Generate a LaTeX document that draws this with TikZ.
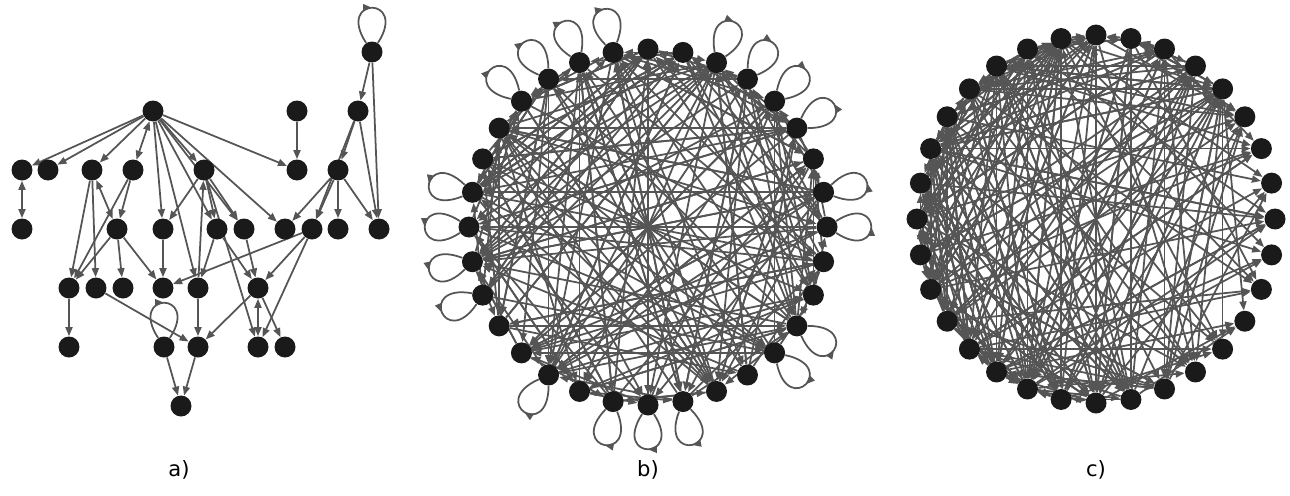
\documentclass[tikz,border=0pt]{standalone}
\usepackage{fontspec}
\setmainfont{DejaVu Sans}
\usetikzlibrary{arrows.meta,decorations.markings}
\definecolor{nodeblack}{RGB}{26,26,26}
\definecolor{edgegray}{RGB}{85,85,85}
\pgfdeclarelayer{bg}
\pgfsetlayers{bg,main}
\begin{document}
\begin{tikzpicture}[x=0.02cm,y=0.02cm,>={Triangle[length=0.18cm,width=0.14cm]},
  vtx/.style={circle,fill=nodeblack,minimum size=0.42cm,inner sep=0pt},
  con/.style={draw=edgegray,line width=1pt},
  selfloop/.style={con,min distance=1.12cm,looseness=1,postaction={decorate},
    decoration={markings,mark=at position 0.5 with {\arrow{>}}}},
  lbl/.style={font=\fontsize{12}{14}\selectfont}]
\useasboundingbox (0,0) rectangle (1290,495);

% a) the tree-like graph
\node[vtx] (p) at (372,443) {};
\node[vtx] (r) at (153,384) {};
\node[vtx] (q) at (297,384) {};
\node[vtx] (s) at (358,384) {};
\node[vtx] (u1) at (22,325) {};
\node[vtx] (u2) at (48,325) {};
\node[vtx] (u3) at (92,325) {};
\node[vtx] (u4) at (133,325) {};
\node[vtx] (u5) at (204,325) {};
\node[vtx] (u6) at (297,325) {};
\node[vtx] (u7) at (338,325) {};
\node[vtx] (v1) at (22,266) {};
\node[vtx] (v2) at (117,266) {};
\node[vtx] (v3) at (163,266) {};
\node[vtx] (v4) at (217,266) {};
\node[vtx] (v5) at (244,266) {};
\node[vtx] (v6) at (285,266) {};
\node[vtx] (v7) at (312,266) {};
\node[vtx] (v8) at (338,266) {};
\node[vtx] (v9) at (379,266) {};
\node[vtx] (w1) at (69,207) {};
\node[vtx] (w2) at (96,207) {};
\node[vtx] (w3) at (123,207) {};
\node[vtx] (w4) at (163,207) {};
\node[vtx] (w5) at (198,207) {};
\node[vtx] (w6) at (258,207) {};
\node[vtx] (x1) at (69,148) {};
\node[vtx] (x2) at (164,148) {};
\node[vtx] (x3) at (198,148) {};
\node[vtx] (x4) at (258,148) {};
\node[vtx] (x5) at (285,148) {};
\node[vtx] (z) at (181,89) {};

% b) and c) circular layouts
\foreach \i in {0,...,31}
  \node[vtx] (b\i) at ({648+179*cos(90-11.25*\i)},{268+178*sin(90-11.25*\i)}) {};
\foreach \i in {0,...,31}
  \node[vtx] (c\i) at ({1096+179*cos(90-11.25*\i)},{276+184*sin(90-11.25*\i)}) {};

\node[lbl] (la) at (179,25) {a)};
\node[lbl] (lb) at (648,25) {b)};
\node[lbl] (lc) at (1096,25) {c)};

\begin{pgfonlayer}{bg}
\draw[selfloop] (p) to[out=123,in=57] (p);
\draw[selfloop] (x2) to[out=123,in=57] (x2);
\draw[con,->] (p) -- (s);
\draw[con,->] (p) -- (v9);
\draw[con,->] (q) -- (u6);
\draw[con,->] (s) -- (u7);
\draw[con,->] (s) -- (v7);
\draw[con,->] (s) -- (v9);
\draw[con,->] (r) -- (u1);
\draw[con,->] (r) -- (u2);
\draw[con,->] (r) -- (u3);
\draw[con,<->] (r) -- (u4);
\draw[con,->] (r) -- (u5);
\draw[con,->] (r) -- (u6);
\draw[con,->] (r) -- (v3);
\draw[con,->] (r) -- (v4);
\draw[con,->] (r) -- (v5);
\draw[con,->] (r) -- (v6);
\draw[con,->] (r) -- (w5);
\draw[con,<->] (u1) -- (v1);
\draw[con,<->] (u3) -- (v2);
\draw[con,->] (u3) -- (w1);
\draw[con,->] (u3) -- (w2);
\draw[con,->] (u4) -- (v2);
\draw[con,->] (u4) -- (w1);
\draw[con,->] (v2) -- (w1);
\draw[con,->] (v2) -- (w3);
\draw[con,->] (v2) -- (w4);
\draw[con,->] (u5) -- (v3);
\draw[con,->] (u5) -- (v4);
\draw[con,->] (u5) -- (v5);
\draw[con,->] (u5) -- (x4);
\draw[con,->] (w5) -- (u5);
\draw[con,->] (v3) -- (w4);
\draw[con,->] (v4) -- (w5);
\draw[con,->] (v4) -- (w6);
\draw[con,->] (v5) -- (w6);
\draw[con,->] (u7) -- (v6);
\draw[con,->] (u7) -- (v7);
\draw[con,->] (u7) -- (v8);
\draw[con,->] (u7) -- (v9);
\draw[con,->] (v7) -- (w4);
\draw[con,->] (v7) -- (w6);
\draw[con,->] (v7) -- (x4);
\draw[con,->] (w1) -- (x1);
\draw[con,->] (w2) -- (x3);
\draw[con,->] (w5) -- (x3);
\draw[con,<->] (w6) -- (x4);
\draw[con,->] (w6) -- (x3);
\draw[con,->] (w6) -- (x5);
\draw[con,->] (x2) -- (z);
\draw[con,->] (x3) -- (z);

% loops of b)
\foreach \i in {2,3,4,12,15,16,17,19,28,29,30,31}{
  \pgfmathtruncatemacro\outang{90-11.25*\i+33}
  \pgfmathtruncatemacro\inang{90-11.25*\i-33}
  \draw[selfloop] (b\i) to[out=\outang,in=\inang] (b\i);
}
\foreach \i in {5,7,8,11,22,23,24,25}{
  \pgfmathtruncatemacro\outang{90-11.25*\i-33}
  \pgfmathtruncatemacro\inang{90-11.25*\i+33}
  \draw[selfloop] (b\i) to[out=\outang,in=\inang] (b\i);
}

% chords of b)
\pgfmathsetseed{31}
\foreach \n in {1,...,210}{
  \pgfmathtruncatemacro\srcnode{random(0,31)}
  \pgfmathtruncatemacro\dstnode{mod(\srcnode+random(2,30),32)}
  \draw[con,->] (b\srcnode) -- (b\dstnode);
}

% chords of c), leaning to the left half
\foreach \n in {1,...,90}{
  \pgfmathtruncatemacro\srcnode{mod(random(16,34),32)}
  \pgfmathtruncatemacro\tmpnode{mod(random(14,36),32)}
  \pgfmathtruncatemacro\dstnode{ifthenelse(\tmpnode==\srcnode,mod(\srcnode+16,32),\tmpnode)}
  \draw[con,->] (c\srcnode) -- (c\dstnode);
}
\foreach \n in {1,...,190}{
  \pgfmathtruncatemacro\srcnode{mod(random(14,36),32)}
  \pgfmathtruncatemacro\dstnode{mod(\srcnode+random(2,30),32)}
  \draw[con,->] (c\srcnode) -- (c\dstnode);
}
\end{pgfonlayer}
\end{tikzpicture}
\end{document}
